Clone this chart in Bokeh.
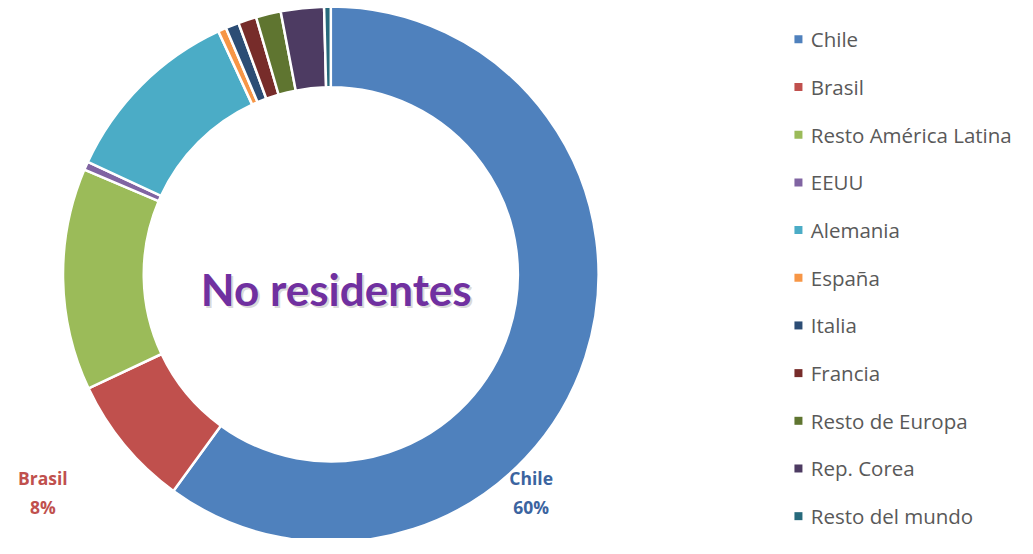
import math
from bokeh.plotting import figure
from bokeh.models import ColumnDataSource, Range1d
from bokeh.core.properties import value
from bokeh.embed import file_html
from bokeh.resources import INLINE

# ---- data ----
categories = ["Chile", "Brasil", "Resto América Latina", "EEUU", "Alemania", "España",
              "Italia", "Francia", "Resto de Europa", "Rep. Corea", "Resto del mundo"]
shares = [60.0, 8.0, 13.4, 0.5, 11.2, 0.5, 0.8, 1.1, 1.5, 2.6, 0.4]
colors = ["#4F81BD", "#C0504D", "#9BBB59", "#8064A2", "#4BACC6", "#F79646",
          "#2C4D75", "#772C2A", "#5F7530", "#4D3B62", "#276A7C"]
label_texts = ["Chile\n60%", "Brasil\n8%"]
label_colors = ["#3B64A0", "#C0504D"]
center_title = "No residentes"

W, H = 1017, 538           # pixel size of the figure
REF_W, REF_H = 1033, 554   # coordinate frame of the reference layout

def py(page_y):
    return REF_H - page_y

p = figure(width=W, height=H, output_backend="svg", toolbar_location=None,
           x_range=Range1d(0, REF_W), y_range=Range1d(0, REF_H),
           min_border=0, outline_line_color=None, background_fill_color="white")
p.axis.visible = False
p.grid.visible = False

cx, cy = 335.5, py(282)
R_out, R_in = 272, 190

total = sum(shares)
starts, ends = [], []
acc = 0.0
for s in shares:
    starts.append(math.pi / 2 - 2 * math.pi * acc / total)
    acc += s
    ends.append(math.pi / 2 - 2 * math.pi * acc / total)

src = ColumnDataSource(dict(cat=categories, start=starts, end=ends, color=colors))
p.annular_wedge(x=cx, y=cy, inner_radius=R_in, outer_radius=R_out,
                start_angle="start", end_angle="end", direction="clock",
                fill_color="color", line_color="white", line_width=2.5, source=src)

# center title with a soft shadow
p.text(x=[cx + 7.5], y=[py(297) - 2], text=[center_title], text_align="center",
       text_baseline="middle", text_font=value("Lato"), text_font_style="bold",
       text_font_size="44px", text_color="#9E9E9E", text_alpha=0.4)
p.text(x=[cx + 5.5], y=[py(297)], text=[center_title], text_align="center",
       text_baseline="middle", text_font=value("Lato"), text_font_style="bold",
       text_font_size="44px", text_color="#7030A0")

# data labels
lab_x = [539, 43]
lab_y = [py(507), py(507)]
p.text(x=lab_x, y=lab_y, text=label_texts, text_align="center", text_baseline="middle",
       text_font=value("Open Sans"), text_font_style="bold", text_font_size="17.5px",
       text_color=label_colors, text_line_height=1.2)

# legend
row0, step = 40, 49.1
leg_y = [py(row0 + i * step) for i in range(len(categories))]
p.scatter(x=[810.5] * len(categories), y=leg_y, marker="square", size=8,
          fill_color=colors, line_color=None)
p.text(x=[823] * len(categories), y=leg_y, text=categories, text_align="left",
       text_baseline="middle", text_font=value("Open Sans"), text_font_size="20.5px",
       text_color="#595959")

open("out.html", "w").write(file_html(p, INLINE))
